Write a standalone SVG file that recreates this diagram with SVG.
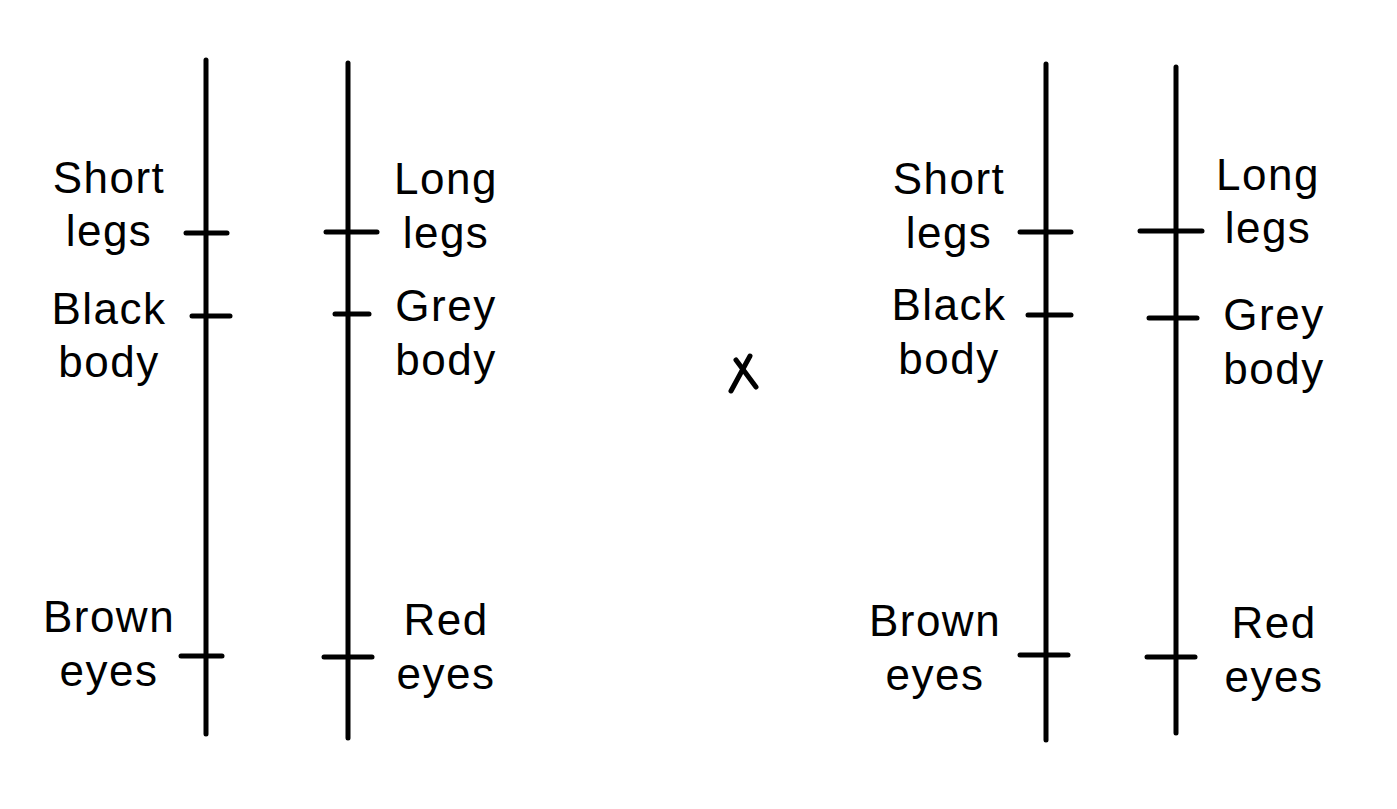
<svg xmlns="http://www.w3.org/2000/svg" width="1397" height="809" viewBox="0 0 1397 809">
<style>
.ln{stroke:#000;stroke-width:5;stroke-linecap:round;fill:none}
.t{font-family:"Liberation Sans",Arial,sans-serif;font-size:44px;letter-spacing:1.5px;fill:#000;text-anchor:middle}
</style>
<rect width="1397" height="809" fill="#fff"/>
<g id="connectors">
<line class="ln" x1="206" y1="60" x2="206" y2="734"/>
<line class="ln" x1="348" y1="63" x2="348" y2="738"/>
<line class="ln" x1="1046" y1="64" x2="1046" y2="740"/>
<line class="ln" x1="1176" y1="67" x2="1176" y2="733"/>
</g>
<g id="chrom1">
<line class="ln" x1="186" y1="233" x2="227" y2="233"/>
<line class="ln" x1="192" y1="316" x2="230" y2="316"/>
<line class="ln" x1="181" y1="656" x2="222" y2="656"/>
<text class="t" x="109" y="193">Short</text>
<text class="t" x="109" y="246">legs</text>
<text class="t" x="109" y="324">Black</text>
<text class="t" x="109" y="377">body</text>
<text class="t" x="109" y="632">Brown</text>
<text class="t" x="109" y="686">eyes</text>
</g>
<g id="chrom2">
<line class="ln" x1="326" y1="232" x2="377" y2="232"/>
<line class="ln" x1="335" y1="314" x2="369" y2="314"/>
<line class="ln" x1="324" y1="657" x2="372" y2="657"/>
<text class="t" x="446" y="194">Long</text>
<text class="t" x="446" y="248">legs</text>
<text class="t" x="446" y="321">Grey</text>
<text class="t" x="446" y="375">body</text>
<text class="t" x="446" y="635">Red</text>
<text class="t" x="446" y="689">eyes</text>
</g>
<g id="cross">
<line stroke="#000" stroke-width="5" stroke-linecap="round" x1="736" y1="360" x2="756" y2="387"/>
<line stroke="#000" stroke-width="5" stroke-linecap="round" x1="750" y1="356" x2="731" y2="391"/>
</g>
<g id="chrom3">
<line class="ln" x1="1020" y1="232" x2="1071" y2="232"/>
<line class="ln" x1="1028" y1="315" x2="1071" y2="315"/>
<line class="ln" x1="1020" y1="655" x2="1068" y2="655"/>
<text class="t" x="949" y="194">Short</text>
<text class="t" x="949" y="248">legs</text>
<text class="t" x="949" y="320">Black</text>
<text class="t" x="949" y="374">body</text>
<text class="t" x="935" y="636">Brown</text>
<text class="t" x="935" y="690">eyes</text>
</g>
<g id="chrom4">
<line class="ln" x1="1140" y1="231" x2="1202" y2="231"/>
<line class="ln" x1="1149" y1="318" x2="1197" y2="318"/>
<line class="ln" x1="1147" y1="657" x2="1195" y2="657"/>
<text class="t" x="1268" y="190">Long</text>
<text class="t" x="1268" y="243">legs</text>
<text class="t" x="1274" y="330">Grey</text>
<text class="t" x="1274" y="384">body</text>
<text class="t" x="1274" y="638">Red</text>
<text class="t" x="1274" y="692">eyes</text>
</g>
</svg>
